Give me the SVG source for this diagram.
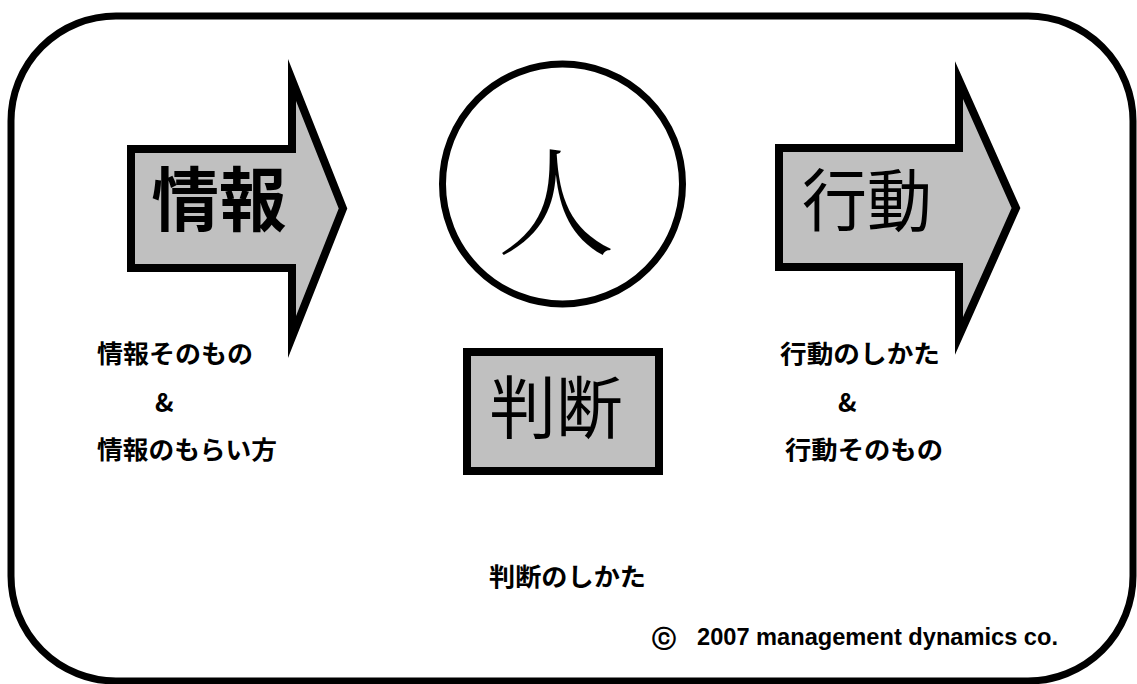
<svg xmlns="http://www.w3.org/2000/svg" width="1137" height="684" viewBox="0 0 1137 684">
<style>
.big{font-family:"Noto Sans CJK JP","Noto Sans CJK SC",sans-serif;fill:#000}
.lbl{font-family:"Noto Sans CJK JP","Noto Sans CJK SC",sans-serif;font-size:25px;font-weight:bold;fill:#000}
.shape{fill:#c0c0c0;stroke:#000;stroke-width:8;stroke-linejoin:miter;stroke-miterlimit:10}
.copy{font-family:"Liberation Sans",sans-serif;font-size:24px;font-weight:bold;fill:#000}
</style>
<rect id="frame" x="11" y="16" width="1122" height="665" rx="105" ry="105" fill="#fff" stroke="#000" stroke-width="7"/>
<g id="connectors"></g>
<g id="info">
<path class="shape" d="M131,149 H292 V80 L343,208.5 L292,337 V268 H131 Z"/>
<text class="big" x="219" y="226" font-size="70" font-weight="bold" text-anchor="middle" textLength="135" lengthAdjust="spacingAndGlyphs">情報</text>
</g>
<g id="action">
<path class="shape" d="M779,148 H959 V80 L1016,208 L959,336 V267 H779 Z"/>
<text class="big" x="867" y="226" font-size="68" text-anchor="middle" textLength="130" lengthAdjust="spacingAndGlyphs">行動</text>
</g>
<g id="person">
<circle cx="562.5" cy="184" r="120" fill="#fff" stroke="#000" stroke-width="7"/>
<text x="556" y="246" font-family="'Noto Serif CJK JP','Noto Sans CJK JP',serif" font-size="118" font-weight="300" text-anchor="middle">人</text>
</g>
<g id="judge">
<rect class="shape" x="467" y="352" width="192" height="119"/>
<text class="big" x="556" y="433" font-size="68" text-anchor="middle" textLength="133" lengthAdjust="spacingAndGlyphs">判断</text>
</g>
<g id="labels">
<text class="lbl" x="97" y="363" textLength="156" lengthAdjust="spacingAndGlyphs">情報そのもの</text>
<text class="lbl" x="155" y="412">&amp;</text>
<text class="lbl" x="97" y="459" textLength="180" lengthAdjust="spacingAndGlyphs">情報のもらい方</text>
<text class="lbl" x="780" y="363" textLength="160" lengthAdjust="spacingAndGlyphs">行動のしかた</text>
<text class="lbl" x="838" y="412">&amp;</text>
<text class="lbl" x="785" y="459" textLength="158" lengthAdjust="spacingAndGlyphs">行動そのもの</text>
<text class="lbl" x="489" y="586" textLength="157" lengthAdjust="spacingAndGlyphs">判断のしかた</text>
<text class="copy" x="652" y="647" font-size="31" font-weight="normal">ⓒ</text>
<text class="copy" x="697" y="645" textLength="361" lengthAdjust="spacingAndGlyphs">2007 management dynamics co.</text>
</g>
</svg>
